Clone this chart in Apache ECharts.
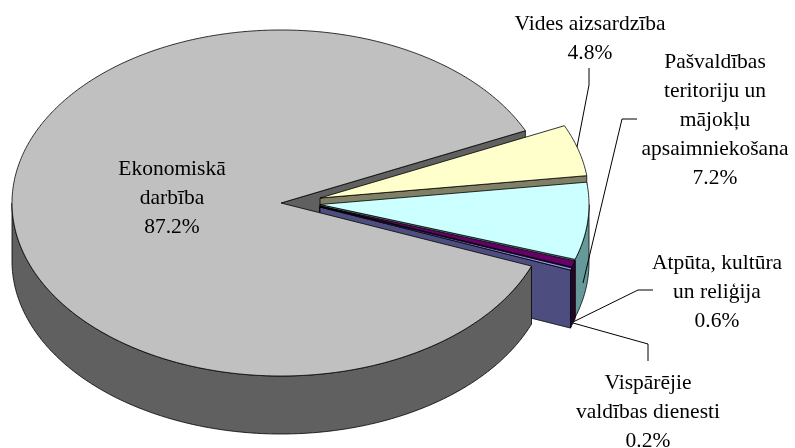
<!DOCTYPE html>
<html><head><meta charset="utf-8">
<style>html,body{margin:0;padding:0;background:#fff}#c{width:795px;height:448px}</style>
<script src="https://cdn.jsdelivr.net/npm/echarts@6/dist/echarts.min.js"></script>
</head><body><div id="c"></div>
<script>
// Data, clockwise from the start angle
const categories = ['Vides aizsardzība','Pašvaldības\nteritoriju un\nmājokļu\napsaimniekošana','Atpūta, kultūra\nun reliģija','Vispārējie\nvaldības dienesti','Ekonomiskā\ndarbība'];
const values = [4.8,7.2,0.6,0.2,87.2];
const topColors = ['#FFFFCC','#CCFFFF','#660066','#9999FF','#C0C0C0'];
const sideColors = ['#808066','#669999','#330033','#4D4D80','#606060'];

// Layout of the tilted pie, separate from the data
const layout = {cx:281, cy:203, rx:269, ry:173, depth:58, startDeg:24.7};
const shifts = [[39,-5],[39,1.5],[39,3],[39,4],[0,0]];
const labelPos = [[590,39],[715,120],[717,292],[648,412],[172,198]];
const leaders = [
  [[589,68],[589,85],[577,147]],
  [[637,119],[622,119],[583,283]],
  [[653,290],[638,290],[573,322]],
  [[648,361],[648,344],[573,323]],
  null
];
const stroke = {stroke:'#000', lineWidth:0.8, lineJoin:'round'};

const total = values.reduce((a,b)=>a+b,0);
const angles = []; // [startDeg, endDeg], angle decreases going clockwise
values.reduce((acc,v)=>{ const e = acc - v/total*360; angles.push([acc,e]); return e; }, layout.startDeg);

function pt(i,deg,dz){
  const r = deg*Math.PI/180;
  return [layout.cx+shifts[i][0]+layout.rx*Math.cos(r), layout.cy+shifts[i][1]-layout.ry*Math.sin(r)+(dz||0)];
}
function center(i,dz){ return [layout.cx+shifts[i][0], layout.cy+shifts[i][1]+(dz||0)]; }
function arc(i,a,b,dz){
  const n = Math.max(2, Math.ceil(Math.abs(a-b)/0.5)), p=[];
  for(let k=0;k<=n;k++) p.push(pt(i,a+(b-a)*k/n,dz));
  return p;
}
function poly(points,fill){ return {type:'polygon', shape:{points}, style:Object.assign({fill},stroke), silent:true}; }

function cutFace(i){
  const e = angles[i][1];
  return poly([center(i),pt(i,e),pt(i,e,layout.depth),center(i,layout.depth)], sideColors[i]);
}
function rimFace(i){
  // visible part of the outer wall: the front half of the ellipse
  let [a,b] = angles[i];
  a = Math.min(a,0); b = Math.max(b,-180);
  if (a<=b) return null;
  return poly(arc(i,a,b).concat(arc(i,b,a,layout.depth)), sideColors[i]);
}
function topFace(i){
  const [a,b] = angles[i];
  return poly([center(i)].concat(arc(i,a,b)), topColors[i]);
}
const order = [0,1,2,3,4];
const GREY = 4;

const chart = echarts.init(document.getElementById('c'),null,{renderer:'canvas'});
chart.setOption({
  animation:false,
  backgroundColor:'#fff',
  series:[
    { // far cut wall of the large slice sits behind the pulled-out slices
      type:'custom', coordinateSystem:'none', silent:true, z:1,
      data:[[GREY]],
      renderItem:(p,api)=>({type:'group',children:[cutFace(api.value(0))]})
    },
    {
      type:'custom', coordinateSystem:'none', silent:true, z:2,
      data:order.map(i=>[i, values[i]]),
      renderItem:(p,api)=>{
        const i = api.value(0), ch=[];
        if(i!==GREY) ch.push(cutFace(i));
        const r = rimFace(i); if(r) ch.push(r);
        ch.push(topFace(i));
        return {type:'group',children:ch};
      }
    },
    {
      type:'custom', coordinateSystem:'none', silent:true, z:3,
      data:order.map(i=>[i, values[i]]),
      renderItem:(p,api)=>{
        const i = api.value(0), ch=[];
        if(leaders[i]) ch.push({type:'polyline',shape:{points:leaders[i]},style:{stroke:'#000',lineWidth:1,fill:null},silent:true});
        ch.push({type:'text',silent:true,style:{
          text:categories[i]+'\n'+api.value(1).toFixed(1)+'%',
          x:labelPos[i][0],y:labelPos[i][1],
          textAlign:'center',textVerticalAlign:'middle',
          fill:'#000',lineHeight:29,
          fontFamily:'Liberation Serif',fontSize:21.5
        }});
        return {type:'group',children:ch};
      }
    }
  ]
});
</script></body></html>
